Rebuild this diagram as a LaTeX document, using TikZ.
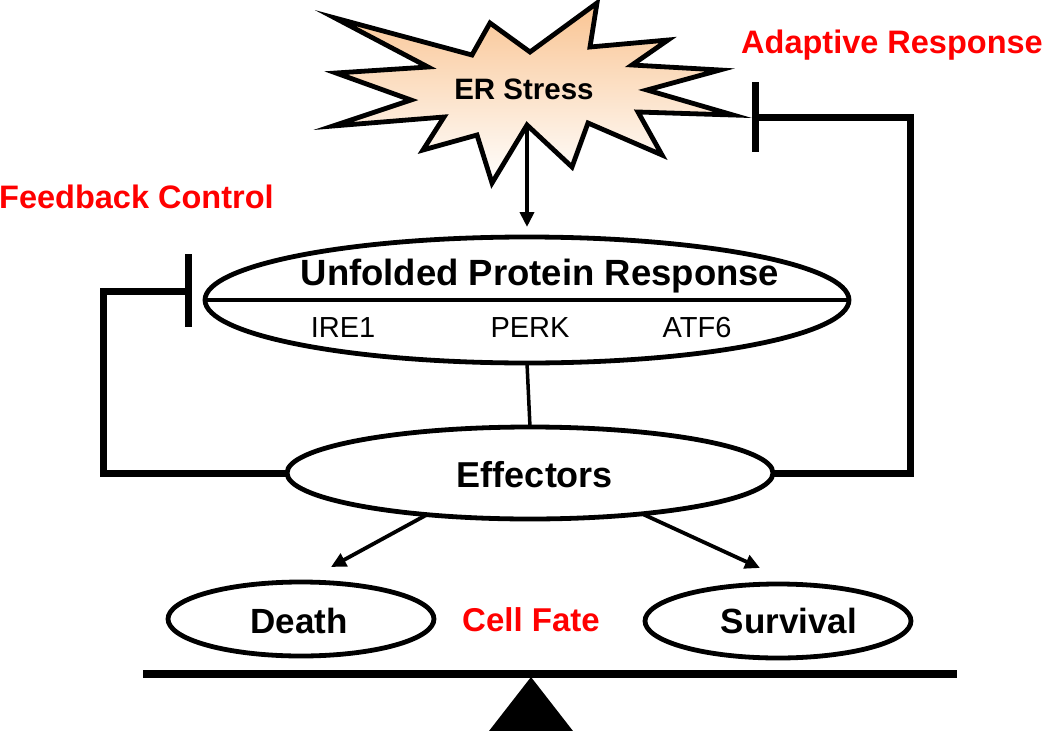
\documentclass[tikz,border=0pt]{standalone}
\usepackage{fontspec}
\setmainfont{Liberation Sans}
\usetikzlibrary{arrows.meta,shapes.geometric}
\definecolor{peach}{RGB}{249,196,146}
\definecolor{lblred}{RGB}{255,0,0}
\begin{document}
\begin{tikzpicture}[x=1pt,y=-1pt,
  oval/.style={draw, ellipse, line width=4.8pt, inner sep=0pt, outer sep=0pt},
  thickline/.style={line width=7pt},
  thinline/.style={line width=3.5pt},
  arr/.style={line width=3.8pt,-{Triangle[length=15pt,width=14pt]}},
  lbl/.style={inner sep=0pt, anchor=base},
  redlbl/.style={inner sep=0pt, anchor=base west, text=lblred, font=\bfseries\fontsize{32.5}{38}\selectfont},
]
\useasboundingbox (0,0) rectangle (1050,731);

% ER stress star
\draw[line width=4.8pt, top color=peach, bottom color=white]
 (335,18) -- (472,55) -- (490,23) -- (530,52) -- (597,3) -- (590,47)
 -- (668,40) -- (632,65) -- (720,70) -- (647,90) -- (733,115) -- (638,112)
 -- (662,155) -- (588,123) -- (572,167) -- (527,125) -- (492,183) -- (477,135)
 -- (423,150) -- (444,117) -- (333,126) -- (411,100) -- (336,73) -- (428,67) -- cycle;
\node[lbl, font=\bfseries\fontsize{29.5}{35}\selectfont] (stress) at (524,99) {ER Stress};
\coordinate (starbot) at (527,125);

% UPR
\node[oval, minimum width=644pt, minimum height=126pt] (upr) at (527,300) {};
\draw[line width=4pt] (upr.west) -- (upr.east);
\node[lbl, font=\bfseries\fontsize{36.5}{42}\selectfont] (uprt) at (540,285) {Unfolded Protein Response};
\node[lbl, font=\fontsize{29}{34}\selectfont] (ire) at (343,337) {IRE1};
\node[lbl, font=\fontsize{29}{34}\selectfont] (perk) at (530,337) {PERK};
\node[lbl, font=\fontsize{29}{34}\selectfont] (atf) at (697,337) {ATF6};

\draw[arr, shorten >=10pt] (starbot) -- (upr.north);

% Effectors
\node[oval, minimum width=486pt, minimum height=92pt] (eff) at (530,473) {};
\node[lbl, font=\bfseries\fontsize{36}{42}\selectfont] (efft) at (535,487) {Effectors};
\draw[thinline] (upr.south) -- (eff.north);

% Feedback control
\coordinate (fbA) at (103,473);
\coordinate (fbB) at (103,291);
\coordinate (fbC) at (188,291);
\coordinate (fbT) at (188,254);
\coordinate (fbU) at (188,327);
\draw[thickline] (eff.west) -- (fbA) -- (fbB) -- (fbC);
\draw[thickline] (fbT) -- (fbU);
\node[redlbl] (fbl) at (-1,208) {Feedback Control};

% Adaptive response
\coordinate (arA) at (910,473);
\coordinate (arB) at (910,117);
\coordinate (arC) at (755,117);
\coordinate (arT) at (755,82);
\coordinate (arU) at (755,152);
\draw[thickline] (eff.east) -- (arA) -- (arB) -- (arC);
\draw[thickline] (arT) -- (arU);
\node[redlbl] (arl) at (741,53) {Adaptive Response};

% Cell fate
\node[oval, minimum width=266pt, minimum height=74pt] (death) at (301,619) {};
\node[lbl, font=\bfseries\fontsize{35}{40}\selectfont] (deatht) at (299,633) {Death};
\node[oval, minimum width=266pt, minimum height=74pt] (surv) at (778,621) {};
\node[lbl, font=\bfseries\fontsize{35}{40}\selectfont] (survt) at (789,633) {Survival};
\node[lbl, text=lblred, font=\bfseries\fontsize{33}{38}\selectfont] (fate) at (531,631) {Cell Fate};

\coordinate (dtip) at (331,567);
\coordinate (stip) at (760,568);
\draw[arr] (eff.202.6) -- (dtip);
\draw[arr] (eff.340.4) -- (stip);

% Balance
\coordinate (beamL) at (143,674);
\coordinate (beamR) at (957,674);
\draw[line width=8pt] (beamL) -- (beamR);
\fill (531,677) -- (489,731) -- (573,731) -- cycle;
\end{tikzpicture}
\end{document}
